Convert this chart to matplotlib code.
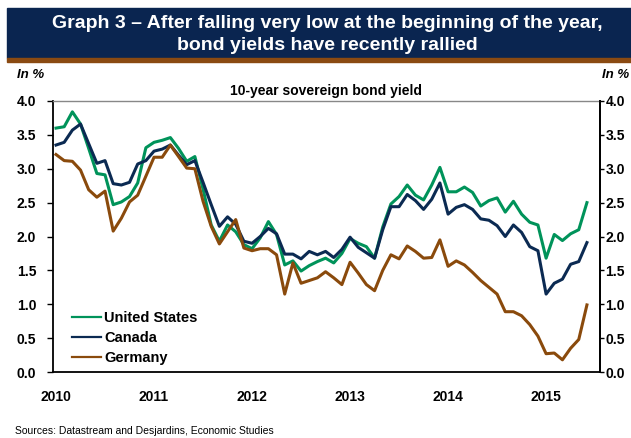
import matplotlib
matplotlib.use('Agg')
import matplotlib.pyplot as plt
from matplotlib.patches import Rectangle

# Monthly 10-year yields, Jan 2010 - Jun 2015
us = [3.60, 3.62, 3.84, 3.66, 3.30, 2.93, 2.91, 2.47, 2.51, 2.59, 2.79, 3.31,
      3.39, 3.42, 3.46, 3.30, 3.11, 3.18, 2.70, 2.17, 1.93, 2.17, 2.07, 1.88,
      1.82, 1.98, 2.22, 2.03, 1.58, 1.64, 1.49, 1.57, 1.63, 1.68, 1.61, 1.75,
      1.97, 1.90, 1.85, 1.68, 2.14, 2.48, 2.59, 2.76, 2.61, 2.54, 2.76, 3.02,
      2.66, 2.66, 2.73, 2.65, 2.45, 2.53, 2.57, 2.36, 2.52, 2.33, 2.21, 2.17,
      1.68, 2.03, 1.94, 2.04, 2.10, 2.50]
canada = [3.35, 3.39, 3.57, 3.66, 3.37, 3.08, 3.12, 2.78, 2.76, 2.80, 3.07, 3.12,
          3.26, 3.29, 3.35, 3.20, 3.06, 3.12, 2.80, 2.47, 2.15, 2.29, 2.18, 1.93,
          1.90, 2.00, 2.12, 2.04, 1.74, 1.74, 1.67, 1.78, 1.73, 1.78, 1.69, 1.81,
          1.99, 1.84, 1.76, 1.68, 2.10, 2.44, 2.44, 2.62, 2.53, 2.40, 2.55, 2.79,
          2.33, 2.43, 2.47, 2.40, 2.26, 2.24, 2.16, 2.00, 2.17, 2.06, 1.85, 1.79,
          1.15, 1.31, 1.37, 1.59, 1.63, 1.91]
germany = [3.21, 3.12, 3.11, 2.98, 2.69, 2.58, 2.67, 2.08, 2.27, 2.51, 2.61, 2.89,
           3.17, 3.17, 3.35, 3.18, 3.01, 3.00, 2.52, 2.15, 1.89, 2.07, 2.25, 1.83,
           1.79, 1.82, 1.82, 1.73, 1.15, 1.61, 1.31, 1.35, 1.39, 1.48, 1.39, 1.29,
           1.62, 1.46, 1.29, 1.20, 1.50, 1.73, 1.67, 1.86, 1.78, 1.68, 1.69, 1.95,
           1.56, 1.64, 1.58, 1.47, 1.35, 1.25, 1.15, 0.89, 0.89, 0.83, 0.70, 0.53,
           0.27, 0.28, 0.18, 0.35, 0.48, 0.99]
years = ['2010', '2011', '2012', '2013', '2014', '2015']
yticks = [0.0, 0.5, 1.0, 1.5, 2.0, 2.5, 3.0, 3.5, 4.0]

green = '#00935a'
navy = '#0b2a52'
brown = '#8a4a0c'

plt.rcParams['font.family'] = ['Liberation Sans', 'DejaVu Sans']
plt.rcParams['font.weight'] = 'bold'

fig = plt.figure(figsize=(6.31, 4.38), dpi=100)

# title banner
fig.patches.append(Rectangle((7 / 631, 1 - 58 / 438), 1, 50 / 438,
                             transform=fig.transFigure, color='#0a2550', zorder=0))
fig.patches.append(Rectangle((7 / 631, 1 - 62 / 438), 1, 4 / 438,
                             transform=fig.transFigure, color='#8a4a12', zorder=0))
fig.text(327 / 631, 1 - 23 / 438, 'Graph 3 \u2013 After falling very low at the beginning of the year,',
         color='white', fontsize=14, fontweight='bold', ha='center', va='center')
fig.text(327 / 631, 1 - 45 / 438, 'bond yields have recently rallied',
         color='white', fontsize=14, fontweight='bold', ha='center', va='center')

fig.text(17 / 631, 1 - 75 / 438, 'In %', fontsize=9.5, fontweight='bold', style='italic',
         ha='left', va='center')
fig.text(602 / 631, 1 - 75 / 438, 'In %', fontsize=9.5, fontweight='bold', style='italic',
         ha='left', va='center')
fig.text(326 / 631, 1 - 91 / 438, '10-year sovereign bond yield', fontsize=10,
         fontweight='bold', ha='center', va='center')
fig.text(15 / 631, 1 - 431 / 438, 'Sources: Datastream and Desjardins, Economic Studies',
         fontsize=7.5, fontweight='normal', ha='left', va='center')

ax = fig.add_axes([53 / 631, 66 / 438, 547 / 631, 271 / 438])
x = list(range(len(us)))
ax.plot(x, us, color=green, lw=2.2, label='United States')
ax.plot(x, canada, color=navy, lw=2.2, label='Canada')
ax.plot(x, germany, color=brown, lw=2.2, label='Germany')

ax.set_xlim(-0.37, 66.6)
ax.set_ylim(0, 4)
ax.set_yticks(yticks)
ax.set_yticklabels([f'{v:.1f}' for v in yticks], fontsize=10, fontweight='bold')
ax.set_xticks(range(0, 61, 12))
ax.set_xticklabels(years, fontsize=10, fontweight='bold')
ax.tick_params(axis='x', length=0, pad=13)
ax.tick_params(axis='y', which='both', direction='out', length=4, width=1)
ax.tick_params(axis='y', left=True, labelleft=True, pad=8)
for side in ['left', 'right', 'bottom']:
    ax.spines[side].set_color('black')
    ax.spines[side].set_linewidth(1.3)
ax.spines['top'].set_color('#888888')
ax.spines['top'].set_linewidth(1)

# right-hand copy of the y axis
ax2 = ax.twinx()
ax2.set_ylim(0, 4)
ax2.set_yticks(yticks)
ax2.set_yticklabels([f'{v:.1f}' for v in yticks], fontsize=10, fontweight='bold')
ax2.tick_params(axis='y', direction='out', length=3, width=1, pad=1)
for side in ['left', 'top', 'bottom']:
    ax2.spines[side].set_visible(False)
ax2.spines['right'].set_linewidth(1.3)

leg = ax.legend(loc='lower left', bbox_to_anchor=(0.0, -0.045), frameon=False,
                prop={'size': 10.5, 'weight': 'bold'}, handlelength=2.0,
                handletextpad=0.2, labelspacing=0.42, borderaxespad=0.9)
for h in leg.get_lines():
    h.set_linewidth(1.6)

fig.savefig('out.png', dpi=100)
